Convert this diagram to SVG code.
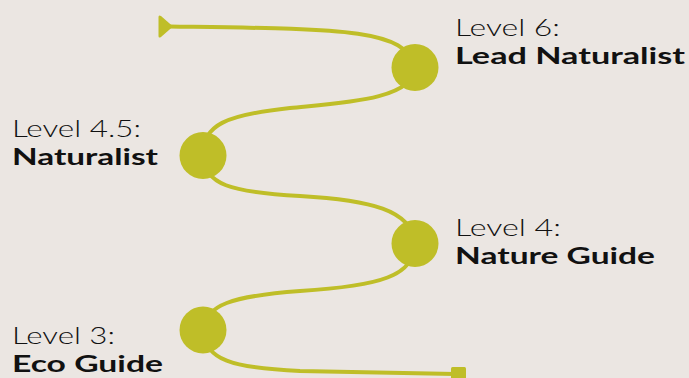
<svg xmlns="http://www.w3.org/2000/svg" width="689" height="378" viewBox="0 0 689 378">
<style>
.lvl{font-family:"Lato","Noto Sans","Liberation Sans",sans-serif;font-weight:300;font-size:23px;fill:#111}
.nm{font-family:"Lato","Noto Sans","Liberation Sans",sans-serif;font-weight:700;font-size:23px;fill:#111}
.path{fill:none;stroke:#bfbe28;stroke-width:4;stroke-linecap:round}
.dot{fill:#bfbe28}
</style>
<rect width="689" height="378" fill="#ebe6e2"/>
<g id="connectors">
<path class="path" d="M170,26.5 C340,29 405,28 415,67 C415,100 340,103 290,108 C225,115 203,125 203,155 C205,185 230,192 300,196 C370,200 412,210 415,243 C415,276 380,286 300,291 C232,296 205,305 203,330 C205,360 232,368 300,371 L455,374"/>
<path class="dot" d="M158.5,17 Q158.5,14.5 161,16 L173,26.5 L161,37 Q158.5,38.5 158.5,36 Z"/>
<rect class="dot" x="451" y="367" width="15" height="15" rx="1.5"/>
</g>
<g id="level6">
<circle class="dot" cx="415" cy="67.5" r="23.5"/>
<text class="lvl" x="455" y="36" textLength="105" lengthAdjust="spacingAndGlyphs">Level 6:</text>
<text class="nm" x="455" y="64" textLength="230" lengthAdjust="spacingAndGlyphs">Lead Naturalist</text>
</g>
<g id="level45">
<circle class="dot" cx="203" cy="155.5" r="23.5"/>
<text class="lvl" x="12" y="137" textLength="129" lengthAdjust="spacingAndGlyphs">Level 4.5:</text>
<text class="nm" x="12" y="165" textLength="146" lengthAdjust="spacingAndGlyphs">Naturalist</text>
</g>
<g id="level4">
<circle class="dot" cx="415" cy="243.5" r="23.5"/>
<text class="lvl" x="455" y="236" textLength="106" lengthAdjust="spacingAndGlyphs">Level 4:</text>
<text class="nm" x="455" y="264" textLength="200" lengthAdjust="spacingAndGlyphs">Nature Guide</text>
</g>
<g id="level3">
<circle class="dot" cx="203" cy="330" r="23.5"/>
<text class="lvl" x="12" y="344.4" textLength="103" lengthAdjust="spacingAndGlyphs">Level 3:</text>
<text class="nm" x="12" y="372" textLength="151" lengthAdjust="spacingAndGlyphs">Eco Guide</text>
</g>
</svg>
